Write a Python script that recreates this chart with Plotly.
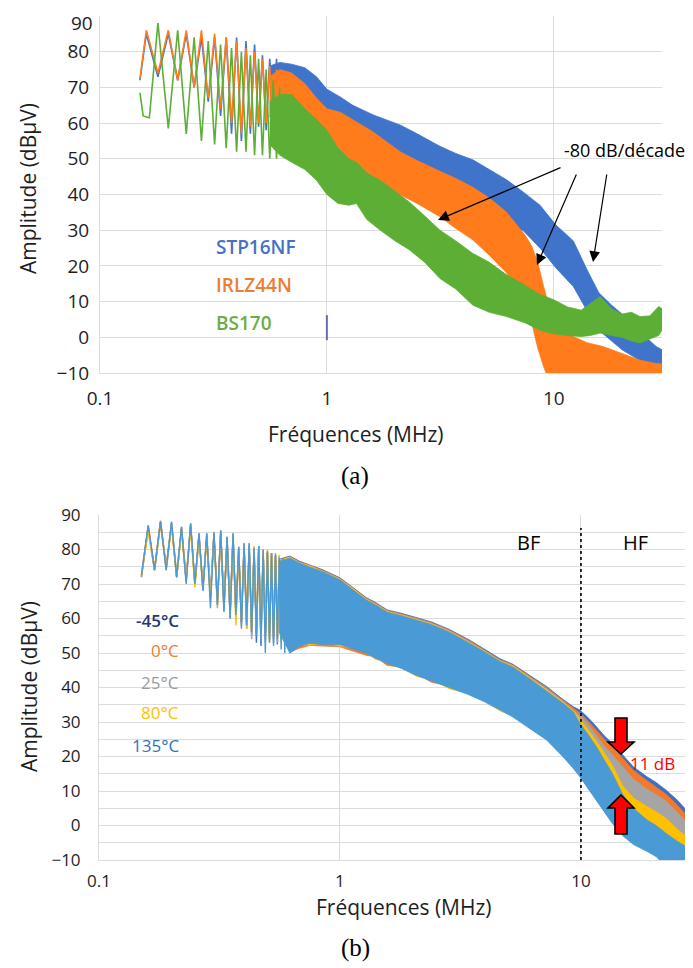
import math
import plotly.graph_objects as go

# the page body has an 8 px margin, so the figure starts at (8, 8) in the window
OFF = 8
W, H = 693 - OFF, 968 - OFF
FONT = "Open Sans, Lato, sans-serif"
GRID = "#DCDCDC"

# ---------------- (a) three MOSFETs ----------------
# low-frequency harmonics (peak / trough), MHz and dBuV
a_zz_f = [0.150, 0.160, 0.180, 0.200, 0.220, 0.240, 0.260, 0.280, 0.300, 0.320,
          0.340, 0.360, 0.380, 0.400, 0.420, 0.440, 0.460, 0.480, 0.500, 0.520,
          0.540, 0.560, 0.580, 0.600, 0.620]
stp_zz = [72, 85, 73, 85, 72, 85, 70, 84, 66, 84, 62, 84, 57, 84, 55, 83, 57, 82, 59, 79,
          58, 78, 58, 78, 57]
irlz_zz = [72.5, 86, 74, 86, 72, 86, 70, 86, 67, 85, 64, 84, 60, 83, 57, 81, 59, 80, 60, 78,
           60, 76, 59, 75, 58]
bs_zz_f = [0.150, 0.155, 0.165, 0.180, 0.200, 0.220, 0.240, 0.260, 0.280, 0.300,
           0.320, 0.340, 0.360, 0.380, 0.400, 0.420, 0.440, 0.460, 0.480, 0.500,
           0.520, 0.540, 0.560, 0.580, 0.600, 0.620]
bs_zz = [68.5, 62, 61.5, 88, 58.5, 86, 57, 84, 55, 83, 54, 82, 53, 81, 52, 80, 52, 79, 51, 78,
         51, 75, 50, 72, 50, 70]

# dense part of the spectra: upper / lower envelope
stp_f = [0.56, 0.62, 0.7, 0.8, 0.9, 1.0, 1.14, 1.3, 1.6, 2.1, 2.5, 3.15, 3.7, 4.4, 5.2,
         6.2, 7.3, 8.7, 10.2, 12.2, 14, 15.8, 18, 20, 24, 28.3, 30]
stp_top = [76, 77, 76.5, 75.5, 73, 69.5, 67.4, 65, 62.3, 59.5, 57, 53.5, 51.5, 49.7, 47,
           44.1, 40.8, 37, 31.5, 27, 19, 12.5, 9, 6.5, 1.5, -2.6, -3.5]
stp_bot = [62, 58, 57, 56, 55, 54, 52, 50, 47, 44, 41, 38, 36, 34, 32,
           31, 30, 25, 19.5, 14.2, 7.5, 2, -1, -3.5, -6.5, -8.5, -9]

irlz_f = [0.56, 0.62, 0.7, 0.8, 0.9, 1.0, 1.15, 1.6, 2.1, 2.5, 3.15, 3.7, 4.4, 5.2, 6.2,
          7.0, 7.5, 8.0, 8.5, 9.0, 9.5, 10, 11, 12.2, 14, 16.5, 20, 24, 28, 30]
irlz_top = [73, 75, 74, 71, 67, 64, 63, 57.5, 52, 49.5, 46.5, 44.5, 42, 39, 35,
            31, 28.5, 25.5, 21, 14.5, 9, 5.5, 2.5, 0.2, -1.5, -2.6, -4.5, -6.4, -7.3, -7.5]
irlz_bot = [62, 57, 54, 53, 51.5, 50, 48.5, 44, 40, 37.5, 33.8, 30.5, 27.3, 23, 18,
            13, 9.6, 4, -3, -8, -12, -12, -12, -12, -12, -12, -12, -12, -12, -12]

bs_f = [0.56, 0.62, 0.7, 0.8, 0.9, 1.0, 1.12, 1.25, 1.35, 1.5, 1.72, 2.0, 2.3, 2.7,
        3.15, 3.7, 4.4, 5.2, 6.2, 7.5, 8.7, 10, 11.5, 13.2, 14.5, 16, 18, 20, 22,
        24, 26.5, 29, 30]
bs_top = [66, 68, 68, 64, 61, 58, 53, 50, 49, 46, 44, 41, 38, 34,
          30, 27, 23.5, 21, 17.5, 14.5, 12, 10.5, 8.5, 7.6, 9.5, 11.4, 8, 6.5, 7,
          5.8, 6, 8.6, 8]
bs_bot = [54, 51, 49, 47, 44, 40, 37.5, 37, 37.5, 33, 30, 27, 24.6, 21,
          16.5, 13.5, 9, 7, 5.8, 4, 2, 1, 0.5, 0.2, 0.5, 1.2, 0.5, 0, -1,
          -1.6, -0.5, 0.5, 2]

# ---------------- (b) temperatures ----------------
b_zz_f = [0.15, 0.16, 0.17, 0.18, 0.19, 0.20, 0.21, 0.22, 0.23, 0.24, 0.25, 0.26,
          0.27, 0.28, 0.29, 0.30, 0.31, 0.32, 0.33, 0.34, 0.35, 0.36, 0.37, 0.38,
          0.39, 0.40, 0.41, 0.42, 0.43, 0.44, 0.45, 0.46, 0.47, 0.48, 0.49, 0.50,
          0.51, 0.52, 0.53, 0.54, 0.55, 0.56, 0.57, 0.58, 0.59, 0.60]
zz_m45 = [72, 86.5, 74, 88, 75, 87.5, 72, 86, 71, 87, 70, 84, 69, 84, 67, 84.5, 65, 85,
          63, 83, 62, 84, 61, 80, 59, 81, 57, 81, 55, 80, 53, 80.5, 52, 79.5, 55, 79,
          54, 79, 53, 78.5, 52.5, 78, 54, 77.5, 53, 77]
zz_0 = [72.5, 87, 74.5, 88.4, 74, 87, 72, 86.6, 72, 87, 70, 84.7, 69, 83, 66, 85, 64, 85,
        65, 83.7, 60, 83, 62, 80.8, 58, 81.8, 59, 81, 57, 80.5, 55, 80, 56, 80, 54, 79.5,
        55.5, 79, 54, 78, 56, 78, 55, 77, 54, 77.5]
zz_25 = [72, 86, 74, 88, 75, 88, 73, 86, 71, 87.6, 70, 84, 68, 84.7, 67, 84, 63, 85.6,
         62, 83, 61, 84.7, 60, 80, 59, 81, 58, 81.8, 54, 80, 56, 81, 55, 79, 53, 79,
         54, 78.5, 55, 79, 53, 77.5, 54.5, 77, 55, 76.5]
zz_80 = [72.5, 85, 74, 87, 75, 87, 72, 85, 71, 86, 69, 83, 69, 83, 65, 84, 64, 84,
         63, 82, 61, 84, 58, 80, 60, 81, 57, 80, 56, 81, 57, 81, 54, 80, 55, 80,
         53, 79, 56, 78, 54.5, 78.5, 53.5, 77, 54, 77]
zz_135 = [72.5, 87, 74, 88, 74, 88, 72, 86.6, 70, 87.6, 70, 84.7, 68, 84.7, 63, 85, 64, 85.6,
          62, 83.7, 60, 84.7, 61, 80.8, 57, 81.8, 58, 81.8, 56, 80.5, 55, 81, 53, 80, 50, 79.5,
          53, 79, 52, 78.5, 54, 77.5, 51, 77.5, 50, 76.5]

b_f = [0.56, 0.62, 0.68, 0.75, 0.85, 1.0, 1.15, 1.29, 1.4, 1.57, 1.8, 2.08, 2.4,
       2.85, 3.4, 3.94, 4.62, 5.2, 6.0, 7.2, 8.4, 9.3, 9.9, 10.8, 11.6, 12.5, 13.5,
       14.9, 16.5, 18.8, 20.5, 22.6, 25, 29.5]
top_m45 = [77.2, 78.1, 76.6, 75.6, 74.1, 71.8, 68.6, 66, 64.7, 62.5, 61.5, 60.2, 59,
           56.8, 54, 51.3, 48.3, 46.8, 44, 40.3, 36.6, 34.4, 33.5, 31, 28.6, 26, 23.8,
           20.5, 17, 14.1, 12.5, 10.2, 7.5, 2]
bot_m45 = [56.5, 50.5, 52.5, 53.3, 53, 53, 51.6, 50.5, 49, 47.6, 46, 44, 42.6,
           40.6, 38.6, 36.6, 34, 32, 29, 25.4, 20.6, 17, 14.7, 11, 8, 4.6, 1.2,
           -2.4, -5, -7, -8.5, -11, -11, -11]
top_0 = [77, 77.9, 76.4, 75.4, 73.9, 71.6, 68.5, 65.8, 64.5, 62.3, 61.3, 60, 58.8,
         56.6, 53.8, 51, 48, 46.6, 43.7, 40, 36.3, 34, 32.6, 30, 27.5, 25, 22.8,
         19.5, 16, 13, 11.2, 9, 6, 0.5]
bot_0 = [56, 50.3, 51.4, 52.2, 52, 51.8, 50.4, 49.3, 48.9, 46.4, 45.9, 43.9, 41.5,
         40.4, 38.4, 36.4, 33.9, 31.9, 28.9, 25.2, 20.4, 16.9, 14.5, 10.9, 7.8, 4.4, 1,
         -2.6, -5.1, -7.1, -8.6, -11.5, -11.5, -11.5]
top_25 = [76.8, 77.7, 76.2, 75.2, 73.7, 71.5, 68.4, 65.6, 64.3, 62.1, 61.1, 59.9, 58.6,
          56.4, 53.5, 50.8, 47.8, 46.4, 43.5, 39.7, 36, 33.5, 31.8, 29, 26, 23, 20.5,
          17, 13.5, 10.5, 9, 7, 4, -1.5]
bot_25 = [56.4, 50.3, 52.4, 53.2, 52.9, 52.9, 51.4, 50.3, 48.9, 47.4, 45.9, 43.9, 42.4,
          40.4, 38.4, 36.4, 33.9, 31.9, 28.9, 25.2, 20.4, 16.9, 14.5, 10.9, 7.8, 4.4, 1,
          -2.6, -5.1, -7.1, -8.6, -11.5, -11.5, -11.5]
top_80 = [76.9, 77.8, 76.1, 75.3, 73.6, 71.4, 68.3, 65.5, 64.2, 62, 61, 59.8, 58.4,
          56.2, 53.3, 50.7, 47.7, 46.3, 43.3, 39.4, 35.9, 33.3, 30.8, 27.5, 24.5, 21, 17.5,
          11.5, 8, 5.5, 4, 2, -1, -5]
bot_80 = [55.8, 50.2, 52.3, 52.3, 52.8, 52.1, 51.3, 50.2, 48.2, 47.3, 45.8, 43.2, 42.3,
          39.6, 38.3, 36.3, 33.2, 31.8, 28.8, 25.1, 20.3, 16.8, 14.4, 10.8, 7.7, 4.3, 0.9,
          -2.7, -5.2, -7.2, -8.7, -11.6, -11.6, -11.6]
top_135 = [76.6, 77.5, 76, 75, 73.5, 71.2, 68, 65.3, 64, 61.8, 60.8, 59.5, 58.2,
           56, 53, 50.5, 47.5, 46, 43, 39, 35.5, 33, 29.6, 26, 22.8, 19, 15.1,
           9, 5, 1.6, 0, -2.3, -4.5, -7.5]
bot_135 = [56.2, 49.9, 52, 52.8, 52.5, 52.5, 51, 49.9, 48.5, 47, 45.5, 43.5, 42,
           40, 38, 36, 33.5, 31.5, 28.5, 24.8, 20, 16.5, 14.1, 10.5, 7.4, 4, 0.6,
           -3, -5.5, -7.5, -9, -12, -12, -12]

a_yticks = [-10, 0, 10, 20, 30, 40, 50, 60, 70, 80]   # 90 is written by hand at the top edge
bf_hf_limit = 10  # MHz


def px(x):
    return (x - OFF) / W


def py(y):
    return 1 - (y - OFF) / H


def add_zigzag(fig, f, db, color, xa, ya, width=1.6):
    fig.add_trace(go.Scatter(x=f, y=db, mode="lines", line=dict(color=color, width=width),
                             xaxis=xa, yaxis=ya, hoverinfo="skip"))


def add_band(fig, f, top, bot, color, xa, ya):
    fig.add_trace(go.Scatter(x=list(f) + list(f)[::-1], y=list(top) + list(bot)[::-1],
                             mode="lines", fill="toself", fillcolor=color,
                             line=dict(color=color, width=0.8),
                             xaxis=xa, yaxis=ya, hoverinfo="skip"))


def arrow_path(points):
    return "M " + " L ".join(f"{px(x):.5f},{py(y):.5f}" for x, y in points) + " Z"


fig = go.Figure()

# (a)
blue_a, orange_a, green_a = "#3F74CA", "#FF7B1C", "#5DAE35"
add_zigzag(fig, a_zz_f, stp_zz, blue_a, "x", "y")
add_band(fig, stp_f, stp_top, stp_bot, blue_a, "x", "y")
add_zigzag(fig, a_zz_f, irlz_zz, orange_a, "x", "y")
add_band(fig, irlz_f, irlz_top, irlz_bot, orange_a, "x", "y")
add_zigzag(fig, bs_zz_f, bs_zz, green_a, "x", "y")
add_band(fig, bs_f, bs_top, bs_bot, green_a, "x", "y")
fig.add_trace(go.Scatter(x=[1, 1], y=[-0.8, 6.2], mode="lines",
                         line=dict(color="#6270B4", width=2), xaxis="x", yaxis="y"))

# (b)
temps = [
    (zz_m45, top_m45, bot_m45, "#3D6FC9"),
    (zz_0, top_0, bot_0, "#F27A2A"),
    (zz_25, top_25, bot_25, "#A5A5A5"),
    (zz_80, top_80, bot_80, "#FFC000"),
    (zz_135, top_135, bot_135, "#4A9AD6"),
]
for zz, top, bot, col in temps:
    add_zigzag(fig, b_zz_f, zz, col, "x2", "y2", width=1.4)
    add_band(fig, b_f, top, bot, col, "x2", "y2")

fig.add_trace(go.Scatter(x=[bf_hf_limit, bf_hf_limit], y=[-10, 86.2], mode="lines",
                         line=dict(color="black", width=1.6, dash="dot"),
                         xaxis="x2", yaxis="y2"))

tick_a = dict(family=FONT, size=19, color="#1E1E1E")
tick_b = dict(family=FONT, size=17, color="#1E1E1E")
common = dict(ticks="", showgrid=True, gridcolor=GRID, showline=True, linecolor=GRID,
              zeroline=False, automargin=False)

fig.update_layout(
    width=W, height=H, margin=dict(l=0, r=0, t=0, b=0, autoexpand=False),
    paper_bgcolor="white", plot_bgcolor="white", showlegend=False,
    xaxis=dict(type="log", range=[-1, math.log10(30)], domain=[px(100), px(662)], anchor="y",
               tickvals=[0.1, 1, 10], ticktext=["0.1", "1", "10"],
               tickfont=tick_a, ticklabelstandoff=8, **common),
    yaxis=dict(range=[-10, 90], domain=[py(373), py(16)], anchor="x", tickvals=a_yticks,
               tickfont=tick_a, ticklabelstandoff=6, **common),
    xaxis2=dict(type="log", range=[-1, 1.465], domain=[px(99), 1.0], anchor="y2",
                tickvals=[0.1, 1, 10], ticktext=["0.1", "1", "10"],
                tickfont=tick_b, ticklabelstandoff=6, **common),
    yaxis2=dict(range=[-10, 90], domain=[py(860), py(515)], anchor="x2", dtick=10, tick0=0,
                minor=dict(dtick=5, showgrid=True, gridcolor=GRID),
                tickfont=tick_b, ticklabelstandoff=14, **common),
)

ann = []


def text(x, y, s, size, color="#1E1E1E", xanchor="center", angle=0, family=FONT,
         weight=None, yanchor="middle"):
    f = dict(family=family, size=size, color=color)
    if weight:
        f["weight"] = weight
    ann.append(dict(x=px(x), y=py(y), xref="paper", yref="paper", text=s, showarrow=False,
                    xanchor=xanchor, yanchor=yanchor, textangle=angle, font=f))


# top tick label of (a), kept inside the page
text(95, 8, "90", 19, xanchor="right", yanchor="top")

# axis titles
text(28, 189, "Amplitude (dBµV)", 21, angle=-90)
text(356, 434, "Fréquences (MHz)", 21)
text(29, 687, "Amplitude (dBµV)", 21, angle=-90)
text(404, 907, "Fréquences (MHz)", 21)

# captions
text(355, 476, "(a)", 25, color="black", family="Liberation Serif, serif")
text(355, 948, "(b)", 25, color="black", family="Liberation Serif, serif")

# legend (a)
text(214, 247, "STP16NF", 19, color="#4472C4", xanchor="left", weight=600)
text(214, 285, "IRLZ44N", 19, color="#ED7D31", xanchor="left", weight=600)
text(214, 323, "BS170", 19, color="#6AAD45", xanchor="left", weight=600)

# legend (b)
text(181, 620, "-45°C", 17, color="#1F3A6E", xanchor="right", weight=600)
text(181, 650, "0°C", 17, color="#ED7D31", xanchor="right")
text(181, 682, "25°C", 17, color="#9C9C9C", xanchor="right")
text(181, 712, "80°C", 17, color="#FFC000", xanchor="right")
text(181, 745, "135°C", 17, color="#2E75B6", xanchor="right")

text(528, 542, "BF", 20, color="black")
text(635, 542, "HF", 20, color="black")
text(652, 763, "11 dB", 17, color="#FF0000")
text(624, 150, "-80 dB/décade", 18, color="black")

# arrows to the -80 dB/decade slopes: (head, tail) in pixels
for (hx, hy), (tx, ty) in [((438, 220), (562, 167)), ((537, 265), (577, 173)),
                           ((593, 262), (607, 173))]:
    ann.append(dict(x=px(hx), y=py(hy), xref="paper", yref="paper", ax=tx - hx, ay=ty - hy,
                    text="", showarrow=True, arrowhead=2, arrowsize=1.8, arrowwidth=1.2,
                    arrowcolor="black"))

fig.update_layout(annotations=ann)

# red arrows around the 11 dB gap
down = [(615, 718), (627, 718), (627, 742), (634, 742), (621, 754), (608, 742), (615, 742)]
up = [(621, 795), (634, 808), (627, 808), (627, 834), (615, 834), (615, 808), (608, 808)]
for pts in (down, up):
    fig.add_shape(type="path", path=arrow_path(pts), xref="paper", yref="paper",
                  fillcolor="#FF0000", line=dict(color="black", width=1.6))

fig.write_html("out.html")
